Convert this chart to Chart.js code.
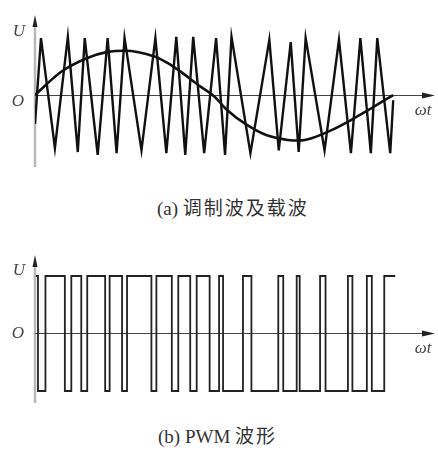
<!DOCTYPE html>
<html>
<head>
<meta charset="utf-8">
<script src="https://cdn.jsdelivr.net/npm/chart.js@4.4.1/dist/chart.umd.min.js"></script>
<style>
  html, body { margin: 0; padding: 0; background: #fff; }
  #wrap { position: relative; width: 438px; height: 450px; }
  canvas { position: absolute; left: 0; }
  .cap { position: absolute; font-family: "Liberation Serif", "Noto Sans CJK SC", serif; font-size: 19px; line-height: 20px; color: #333; white-space: nowrap; }
  .cap .cjk { letter-spacing: 2px; }
</style>
</head>
<body>
<div id="wrap">
  <canvas id="topChart" width="438" height="180" style="top:0"></canvas>
  <div class="cap" style="left:157px; top:199px">(a) <span class="cjk">调制波及载波</span></div>
  <canvas id="bottomChart" width="438" height="180" style="top:240px"></canvas>
  <div class="cap" style="left:158px; top:427px">(b) PWM <span class="cjk">波形</span></div>
</div>
<script>
// ωt in degrees, one period of the modulating wave = 360
const sineX = [0, 26, 52, 73, 90, 120, 134, 146, 166, 180, 193, 213, 233, 254, 266, 278, 298, 318, 338, 360]
const sineY = [0, 0.40, 0.64, 0.75, 0.77, 0.67, 0.55, 0.41, 0.15, -0.02, -0.26, -0.52, -0.70, -0.78, -0.79, -0.75, -0.61, -0.43, -0.23, 0]

// triangular carrier, vertex positions
const carrierX = [0, 6, 20, 33, 43, 50, 63, 73, 82, 90, 107, 121, 132, 142, 151, 159, 170,
  182, 191, 197.5, 216.5, 235.5, 245, 257, 265, 272, 291, 305.5, 317.5, 327, 337.5, 344, 357, 360]
const carrierY = [-0.5, 0.99, -0.92, 1.01, -0.99, 0.99, -1.04, 0.99, -1.01, 0.99, -0.96, 0.99, -1.01,
  1.01, -1.04, 1.01, -1.01, 0.99, -1.04, 1.01, -1.01, 0.96, -0.96, 0.92, -0.99, 0.99, -0.96,
  0.96, -1.01, 0.99, -1.01, 0.99, -1.01, -0.09]

// PWM output, switching instants
const pwmX = [1, 3, 10.5, 30, 36.5, 46.5, 52.5, 70.5, 75, 87.5, 92.5, 117, 122, 137.5, 144, 156, 162.5,
  175.5, 185, 189, 209, 217.5, 244.5, 249.5, 263, 266, 286.5, 292, 314.5, 319, 333.5, 338.5, 351, 362]
const pwmY = [1, -1, 1, -1, 1, -1, 1, -1, 1, -1, 1, -1, 1, -1, 1, -1, 1,
  -1, 1, -1, 1, -1, 1, -1, 1, -1, 1, -1, 1, -1, 1, -1, 1, 1]

function points(xs, ys) {
  return xs.map((x, i) => ({ x, y: ys[i] }))
}

const axesPlugin = {
  id: 'axes',
  beforeDatasetsDraw(chart, args, opts) {
    const { ctx, chartArea, scales: { x, y } } = chart
    const x0 = x.getPixelForValue(0)
    const y0 = Math.round(y.getPixelForValue(0)) + 0.5
    ctx.save()
    // vertical axis
    ctx.strokeStyle = '#b8b8b8'
    ctx.lineWidth = 2.5
    ctx.beginPath()
    ctx.moveTo(x0, chartArea.bottom)
    ctx.lineTo(x0, chartArea.top + 8)
    ctx.stroke()
    ctx.fillStyle = '#222'
    ctx.beginPath()
    ctx.moveTo(x0, chartArea.top)
    ctx.lineTo(x0 - 2.5, chartArea.top + 12)
    ctx.lineTo(x0 + 2.5, chartArea.top + 12)
    ctx.closePath()
    ctx.fill()
    // horizontal axis
    ctx.strokeStyle = '#444'
    ctx.lineWidth = 1
    ctx.beginPath()
    ctx.moveTo(x0, y0)
    ctx.lineTo(chartArea.right - 8, y0)
    ctx.stroke()
    ctx.beginPath()
    ctx.moveTo(chartArea.right, y0)
    ctx.lineTo(chartArea.right - 13, y0 - 3)
    ctx.lineTo(chartArea.right - 13, y0 + 3)
    ctx.closePath()
    ctx.fill()
    // labels
    ctx.fillStyle = '#444'
    ctx.font = 'italic 17px "Liberation Serif"'
    ctx.textAlign = 'center'
    ctx.textBaseline = 'middle'
    ctx.fillText('U', x0 - 16, y.getPixelForValue(opts.uAt))
    ctx.fillText('O', x0 - 17, y0 + opts.oOffset)
    ctx.fillText('ωt', chartArea.right - 12, y0 + 15)
    ctx.restore()
  }
}

function baseOptions(yMin, yMax, pad, labelOpts) {
  return {
    responsive: false,
    animation: false,
    layout: { padding: pad },
    plugins: {
      legend: { display: false },
      tooltip: { enabled: false },
      axes: labelOpts
    },
    elements: { point: { radius: 0 } },
    scales: {
      x: { type: 'linear', min: 0, max: 402, display: false },
      y: { min: yMin, max: yMax, display: false }
    }
  }
}

new Chart(document.getElementById('topChart'), {
  type: 'line',
  data: {
    datasets: [
      {
        data: points(carrierX, carrierY),
        borderColor: '#111',
        borderWidth: 2.4,
        tension: 0
      },
      {
        data: points(sineX, sineY),
        borderColor: '#111',
        borderWidth: 2.6,
        cubicInterpolationMode: 'monotone'
      }
    ]
  },
  options: baseOptions(-1.25, 1.39, { left: 35, right: 3, top: 15, bottom: 13 }, { uAt: 1.11, oOffset: 6 }),
  plugins: [axesPlugin]
})

new Chart(document.getElementById('bottomChart'), {
  type: 'line',
  data: {
    datasets: [
      {
        data: points(pwmX, pwmY),
        borderColor: '#222',
        borderWidth: 1.8,
        stepped: true
      }
    ]
  },
  options: baseOptions(-1.209, 1.365, { left: 35, right: 3, top: 15, bottom: 17 }, { uAt: 1.1, oOffset: 0 }),
  plugins: [axesPlugin]
})
</script>
</body>
</html>
